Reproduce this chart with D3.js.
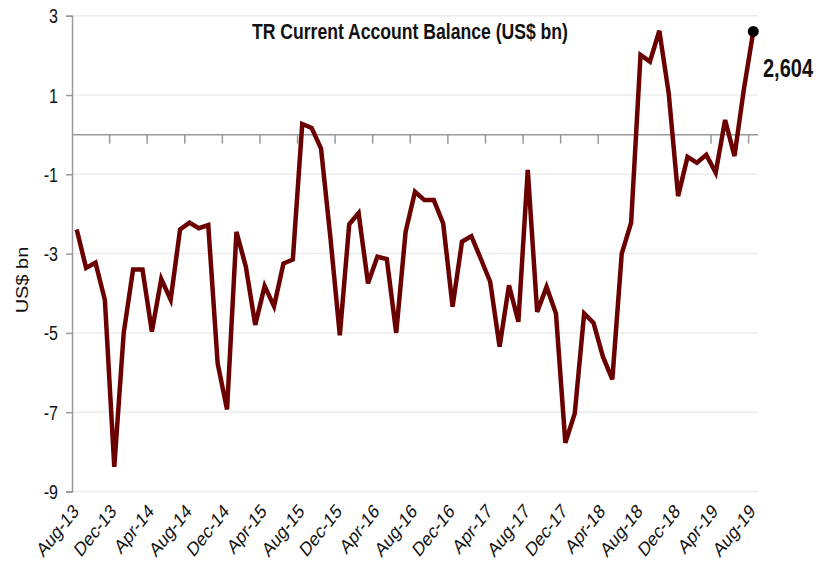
<!DOCTYPE html>
<html>
<head>
<meta charset="utf-8">
<script src="https://cdn.jsdelivr.net/npm/d3@7"></script>
<style>
  body { margin: 0; background: #fff; }
  svg { display: block; font-family: "Liberation Sans", Arial, sans-serif; }
</style>
</head>
<body>
<div id="chart"></div>
<script>
// monthly categories, Aug-13 .. Aug-19
const months = [
  "Aug-13","Sep-13","Oct-13","Nov-13","Dec-13","Jan-14","Feb-14","Mar-14","Apr-14","May-14","Jun-14","Jul-14",
  "Aug-14","Sep-14","Oct-14","Nov-14","Dec-14","Jan-15","Feb-15","Mar-15","Apr-15","May-15","Jun-15","Jul-15",
  "Aug-15","Sep-15","Oct-15","Nov-15","Dec-15","Jan-16","Feb-16","Mar-16","Apr-16","May-16","Jun-16","Jul-16",
  "Aug-16","Sep-16","Oct-16","Nov-16","Dec-16","Jan-17","Feb-17","Mar-17","Apr-17","May-17","Jun-17","Jul-17",
  "Aug-17","Sep-17","Oct-17","Nov-17","Dec-17","Jan-18","Feb-18","Mar-18","Apr-18","May-18","Jun-18","Jul-18",
  "Aug-18","Sep-18","Oct-18","Nov-18","Dec-18","Jan-19","Feb-19","Mar-19","Apr-19","May-19","Jun-19","Jul-19",
  "Aug-19"
];

// current account balance, US$ bn
const balance = [
  -2.39, -3.36, -3.23, -4.17, -8.38, -5.01, -3.40, -3.40, -4.97, -3.64, -4.16, -2.39,
  -2.22, -2.36, -2.28, -5.77, -6.93, -2.45, -3.33, -4.80, -3.82, -4.33, -3.25, -3.15,
   0.27,  0.17, -0.35, -2.60, -5.06, -2.26, -1.98, -3.75, -3.08, -3.14, -5.00, -2.45,
  -1.44, -1.65, -1.65, -2.24, -4.34, -2.70, -2.56, -3.13, -3.71, -5.35, -3.80, -4.72,
  -0.89, -4.47, -3.84, -4.51, -7.77, -7.03, -4.51, -4.75, -5.60, -6.17, -3.00, -2.22,
   2.01,  1.84,  2.62,  1.04, -1.55, -0.56, -0.71, -0.51, -0.96,  0.37, -0.54,  1.15,
   2.604
];

const yTicks = [-9, -7, -5, -3, -1, 1, 3];
const tickEvery = 4;
const title = "TR Current Account Balance (US$ bn)";
const lastLabel = "2,604";

const width = 829, height = 567;
const plot = { left: 72, right: 758, top: 15.7, bottom: 491.5 };
const squish = 0.8; // text in the original looks horizontally compressed

const svg = d3.select("#chart").append("svg")
  .attr("width", width)
  .attr("height", height);

const x = d3.scaleBand()
  .domain(months)
  .range([plot.left, plot.right])
  .padding(0);

const y = d3.scaleLinear()
  .domain([-9, 3])
  .range([plot.bottom, plot.top]);

const cx = d => x(d) + x.bandwidth() / 2;

// gridlines
svg.append("g")
  .selectAll("line")
  .data(yTicks)
  .join("line")
  .attr("x1", plot.left)
  .attr("x2", plot.right)
  .attr("y1", d => y(d))
  .attr("y2", d => y(d))
  .attr("stroke", "#ececec")
  .attr("stroke-width", 1.5);

// y axis (plain hyphen for negatives, like the original)
const yAxis = svg.append("g")
  .attr("transform", `translate(${plot.left},0)`)
  .call(d3.axisLeft(y).tickValues(yTicks).tickSize(6).tickPadding(6).tickFormat(d => String(d)));
yAxis.select(".domain").attr("stroke", "#999").attr("stroke-width", 1.5);
yAxis.selectAll(".tick line").attr("stroke", "#999").attr("stroke-width", 1.5);
yAxis.selectAll(".tick text")
  .attr("font-size", 20)
  .attr("fill", "#111")
  .attr("font-family", "Liberation Sans, Arial, sans-serif")
  .attr("x", null)
  .attr("dy", "0.35em")
  .attr("transform", `translate(-14,0) scale(${squish},1)`);

// zero line with category boundary ticks
const zeroY = y(0);
svg.append("line")
  .attr("x1", plot.left).attr("x2", plot.right)
  .attr("y1", zeroY).attr("y2", zeroY)
  .attr("stroke", "#999").attr("stroke-width", 1.5);

const boundaryIdx = months.map((m, i) => i).filter(i => i % tickEvery === 0 && i > 0);
svg.append("g")
  .selectAll("line")
  .data(boundaryIdx)
  .join("line")
  .attr("x1", i => x(months[i]))
  .attr("x2", i => x(months[i]))
  .attr("y1", zeroY)
  .attr("y2", zeroY + 9)
  .attr("stroke", "#999")
  .attr("stroke-width", 1.5);

// x tick labels, rotated
svg.append("g")
  .selectAll("text")
  .data(months.filter((m, i) => i % tickEvery === 0))
  .join("text")
  .attr("transform", d => `translate(${cx(d) + 3},${plot.bottom + 21}) scale(${squish},1) rotate(-45)`)
  .attr("text-anchor", "end")
  .attr("font-size", 20)
  .attr("fill", "#111")
  .text(d => d);

// y axis title
svg.append("text")
  .attr("transform", `translate(28,280) rotate(-90) scale(1,${squish})`)
  .attr("text-anchor", "middle")
  .attr("font-size", 20)
  .attr("fill", "#111")
  .text("US$ bn");

// the line
const line = d3.line()
  .x((d, i) => cx(months[i]))
  .y(d => y(d));

svg.append("path")
  .datum(balance)
  .attr("d", line)
  .attr("fill", "none")
  .attr("stroke", "#6b0000")
  .attr("stroke-width", 4.5)
  .attr("stroke-linejoin", "miter");

// last point marker
const lastI = balance.length - 1;
svg.append("circle")
  .attr("cx", cx(months[lastI]))
  .attr("cy", y(balance[lastI]))
  .attr("r", 5.5)
  .attr("fill", "#000");

svg.append("text")
  .attr("transform", `translate(763,77) scale(${squish},1)`)
  .attr("font-size", 25)
  .attr("font-weight", "bold")
  .attr("fill", "#111")
  .text(lastLabel);

// chart title
svg.append("text")
  .attr("transform", `translate(252,39) scale(${squish},1)`)
  .attr("font-size", 22)
  .attr("font-weight", "bold")
  .attr("fill", "#111")
  .text(title);
</script>
</body>
</html>
